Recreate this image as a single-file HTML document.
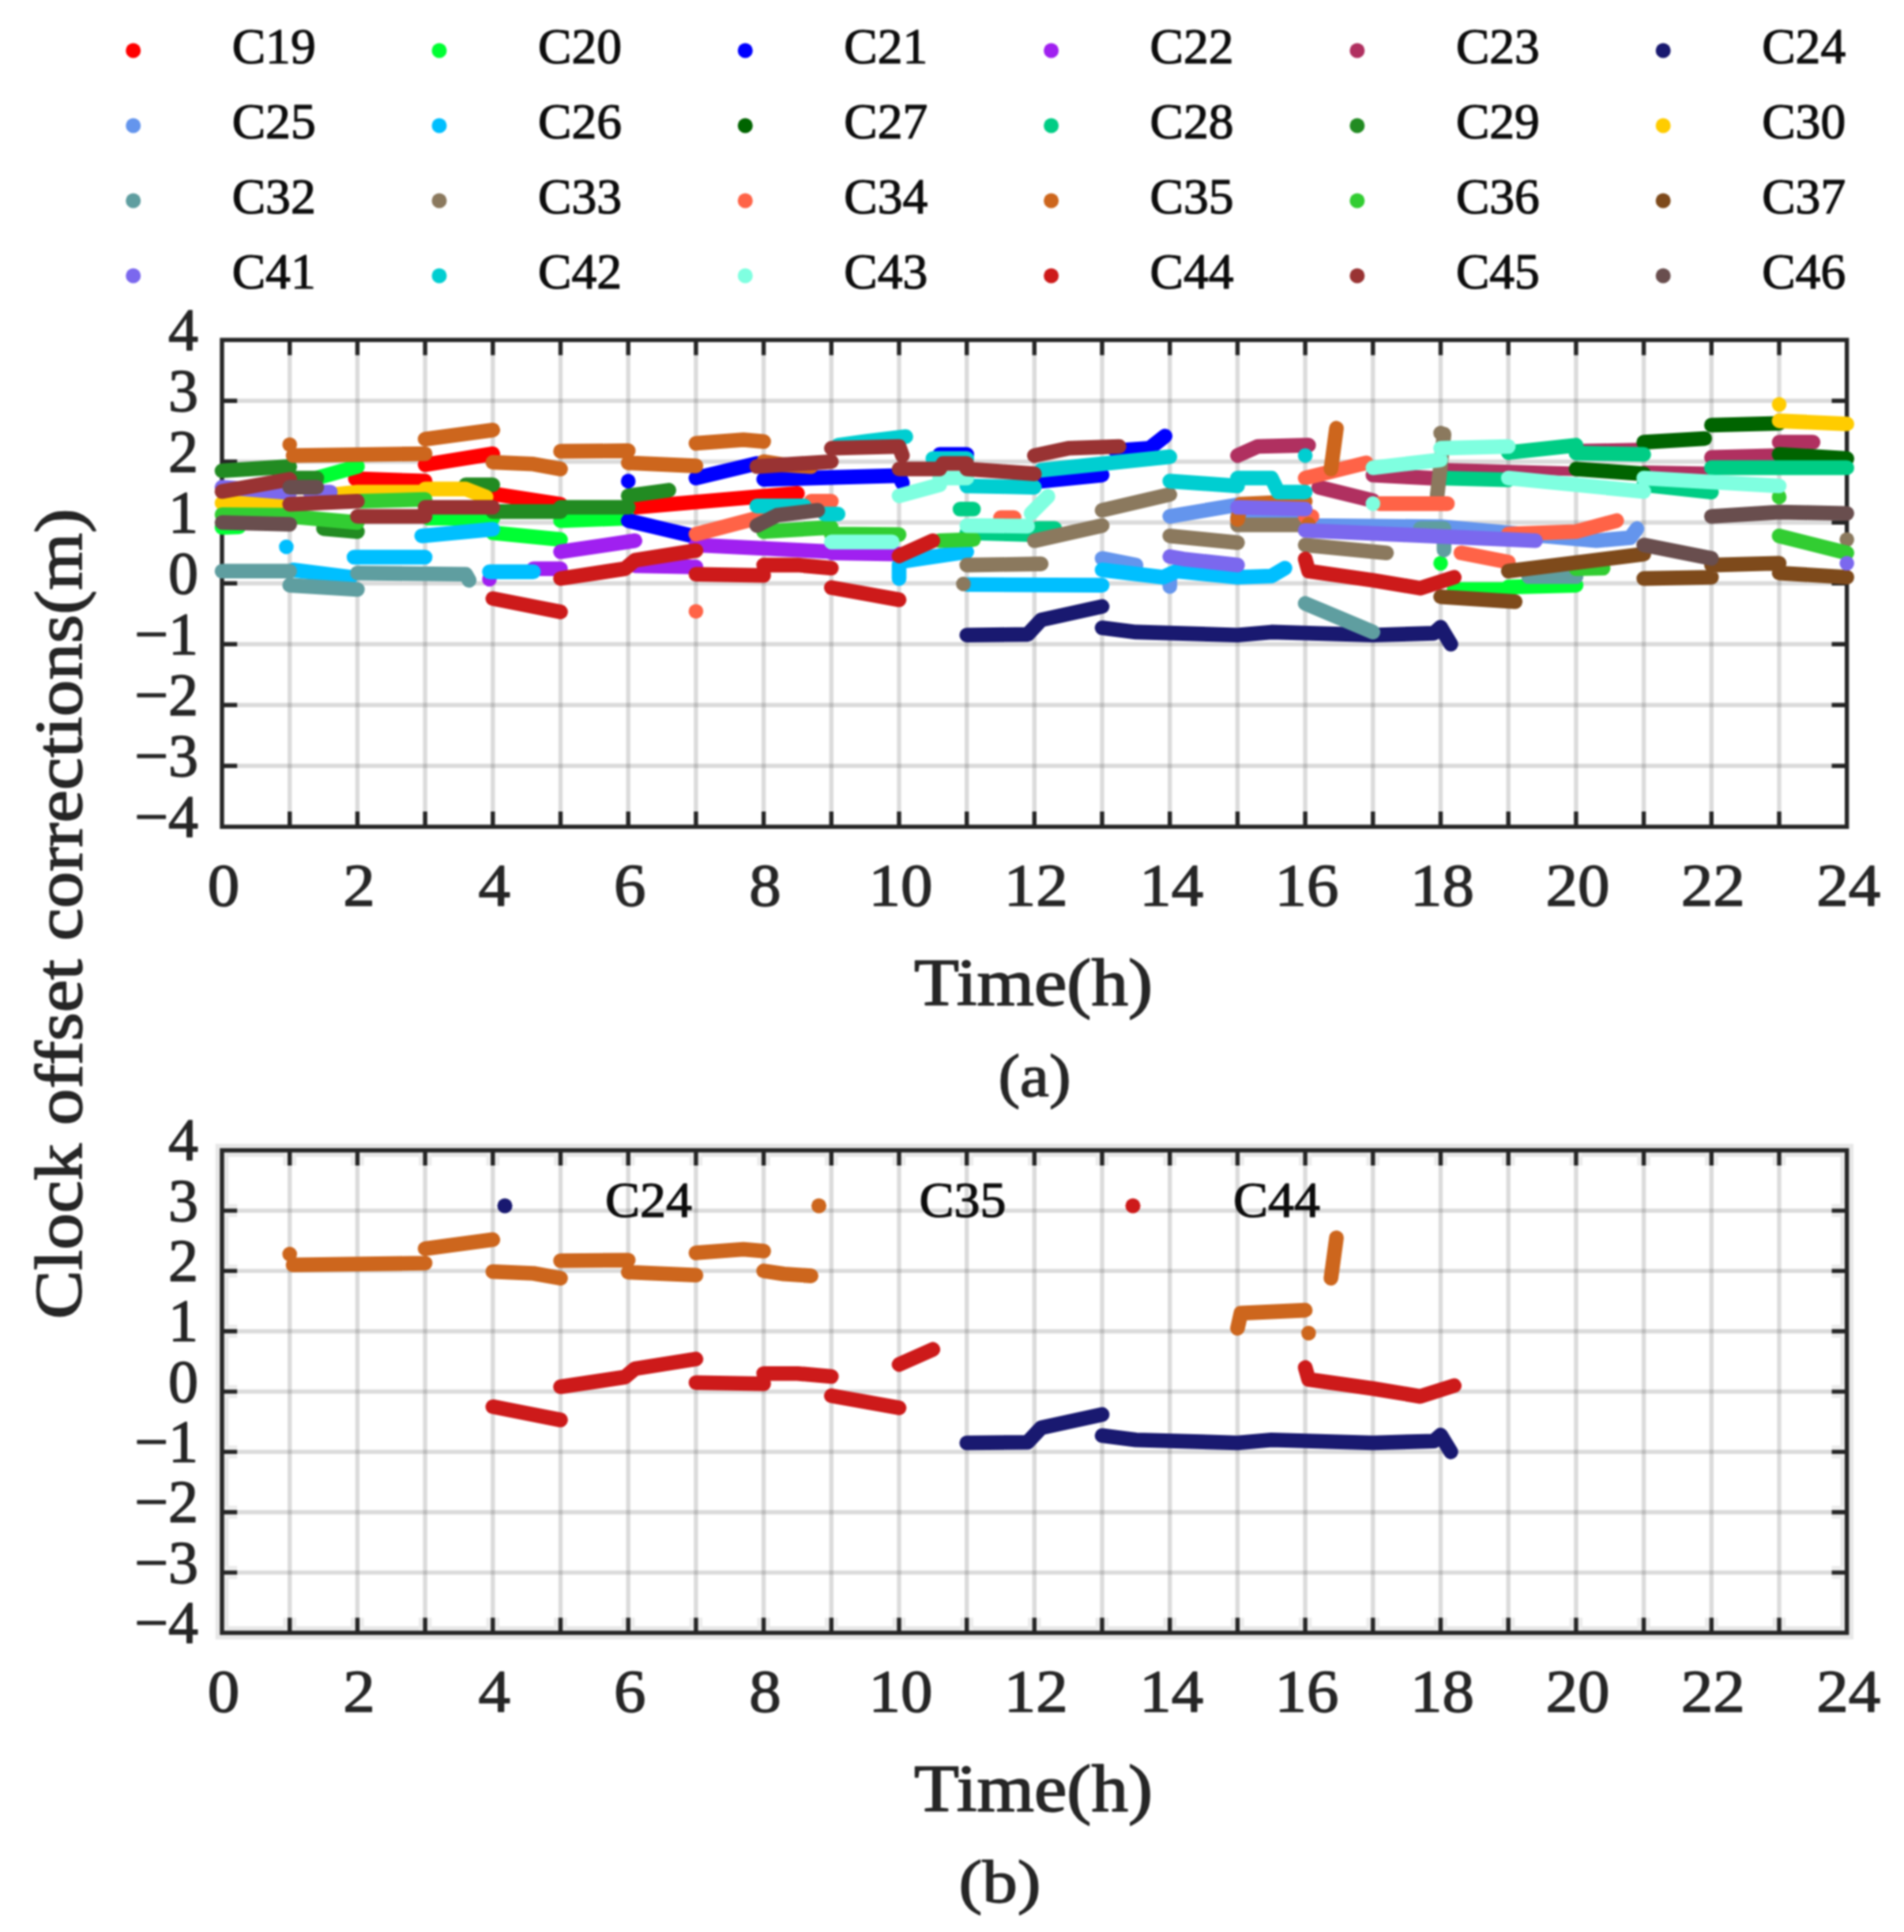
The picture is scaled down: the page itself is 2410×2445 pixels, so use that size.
<!DOCTYPE html>
<html lang="en"><head><meta charset="utf-8"><title>Clock offset corrections</title>
<style>html,body{margin:0;padding:0;background:#fff}svg{display:block;filter:blur(1.3px)}text{font-family:"Liberation Serif", "DejaVu Serif", serif;fill:#262626;stroke:#262626;stroke-width:1.4px;stroke-linejoin:round}.tk{font-size:76px}.lg{font-size:63px;stroke-width:1.2px;fill:#0d0d0d;stroke:#0d0d0d}.ax{font-size:84px;stroke-width:1.6px}.cap{font-size:77px}.d{fill:none;stroke-linecap:round;stroke-linejoin:round;stroke-width:18.6}</style></head><body>
<svg width="2410" height="2445" viewBox="0 0 2410 2445">
<rect width="2410" height="2445" fill="#fff"/>
<circle cx="168.7" cy="64" r="9.5" fill="#ff0000"/>
<text class="lg" x="293.7" y="80" textLength="106" lengthAdjust="spacingAndGlyphs">C19</text>
<circle cx="556" cy="64" r="9.5" fill="#00ff33"/>
<text class="lg" x="681" y="80" textLength="106" lengthAdjust="spacingAndGlyphs">C20</text>
<circle cx="943.3" cy="64" r="9.5" fill="#0000ff"/>
<text class="lg" x="1068.3" y="80" textLength="106" lengthAdjust="spacingAndGlyphs">C21</text>
<circle cx="1330.6" cy="64" r="9.5" fill="#a020f0"/>
<text class="lg" x="1455.6" y="80" textLength="106" lengthAdjust="spacingAndGlyphs">C22</text>
<circle cx="1717.9" cy="64" r="9.5" fill="#b03060"/>
<text class="lg" x="1842.9" y="80" textLength="106" lengthAdjust="spacingAndGlyphs">C23</text>
<circle cx="2105.2" cy="64" r="9.5" fill="#191970"/>
<text class="lg" x="2230.2" y="80" textLength="106" lengthAdjust="spacingAndGlyphs">C24</text>
<circle cx="168.7" cy="159" r="9.5" fill="#6495ed"/>
<text class="lg" x="293.7" y="175" textLength="106" lengthAdjust="spacingAndGlyphs">C25</text>
<circle cx="556" cy="159" r="9.5" fill="#00bfff"/>
<text class="lg" x="681" y="175" textLength="106" lengthAdjust="spacingAndGlyphs">C26</text>
<circle cx="943.3" cy="159" r="9.5" fill="#006400"/>
<text class="lg" x="1068.3" y="175" textLength="106" lengthAdjust="spacingAndGlyphs">C27</text>
<circle cx="1330.6" cy="159" r="9.5" fill="#00cd85"/>
<text class="lg" x="1455.6" y="175" textLength="106" lengthAdjust="spacingAndGlyphs">C28</text>
<circle cx="1717.9" cy="159" r="9.5" fill="#228b22"/>
<text class="lg" x="1842.9" y="175" textLength="106" lengthAdjust="spacingAndGlyphs">C29</text>
<circle cx="2105.2" cy="159" r="9.5" fill="#ffcc00"/>
<text class="lg" x="2230.2" y="175" textLength="106" lengthAdjust="spacingAndGlyphs">C30</text>
<circle cx="168.7" cy="254" r="9.5" fill="#5f9ea0"/>
<text class="lg" x="293.7" y="270" textLength="106" lengthAdjust="spacingAndGlyphs">C32</text>
<circle cx="556" cy="254" r="9.5" fill="#8b795e"/>
<text class="lg" x="681" y="270" textLength="106" lengthAdjust="spacingAndGlyphs">C33</text>
<circle cx="943.3" cy="254" r="9.5" fill="#ff6347"/>
<text class="lg" x="1068.3" y="270" textLength="106" lengthAdjust="spacingAndGlyphs">C34</text>
<circle cx="1330.6" cy="254" r="9.5" fill="#cd661d"/>
<text class="lg" x="1455.6" y="270" textLength="106" lengthAdjust="spacingAndGlyphs">C35</text>
<circle cx="1717.9" cy="254" r="9.5" fill="#32cd32"/>
<text class="lg" x="1842.9" y="270" textLength="106" lengthAdjust="spacingAndGlyphs">C36</text>
<circle cx="2105.2" cy="254" r="9.5" fill="#7e4a1b"/>
<text class="lg" x="2230.2" y="270" textLength="106" lengthAdjust="spacingAndGlyphs">C37</text>
<circle cx="168.7" cy="349" r="9.5" fill="#7b68ee"/>
<text class="lg" x="293.7" y="365" textLength="106" lengthAdjust="spacingAndGlyphs">C41</text>
<circle cx="556" cy="349" r="9.5" fill="#00ced1"/>
<text class="lg" x="681" y="365" textLength="106" lengthAdjust="spacingAndGlyphs">C42</text>
<circle cx="943.3" cy="349" r="9.5" fill="#7fffe0"/>
<text class="lg" x="1068.3" y="365" textLength="106" lengthAdjust="spacingAndGlyphs">C43</text>
<circle cx="1330.6" cy="349" r="9.5" fill="#cd1a1a"/>
<text class="lg" x="1455.6" y="365" textLength="106" lengthAdjust="spacingAndGlyphs">C44</text>
<circle cx="1717.9" cy="349" r="9.5" fill="#993333"/>
<text class="lg" x="1842.9" y="365" textLength="106" lengthAdjust="spacingAndGlyphs">C45</text>
<circle cx="2105.2" cy="349" r="9.5" fill="#694e4e"/>
<text class="lg" x="2230.2" y="365" textLength="106" lengthAdjust="spacingAndGlyphs">C46</text>
<path d="M366.7 430.2 V1046.3 M452.4 430.2 V1046.3 M538.1 430.2 V1046.3 M623.8 430.2 V1046.3 M709.5 430.2 V1046.3 M795.2 430.2 V1046.3 M880.9 430.2 V1046.3 M966.6 430.2 V1046.3 M1052.3 430.2 V1046.3 M1138 430.2 V1046.3 M1223.7 430.2 V1046.3 M1309.3 430.2 V1046.3 M1395 430.2 V1046.3 M1480.7 430.2 V1046.3 M1566.4 430.2 V1046.3 M1652.1 430.2 V1046.3 M1737.8 430.2 V1046.3 M1823.5 430.2 V1046.3 M1909.2 430.2 V1046.3 M1994.9 430.2 V1046.3 M2080.6 430.2 V1046.3 M2166.3 430.2 V1046.3 M2252 430.2 V1046.3" stroke="#262626" stroke-opacity="0.165" stroke-width="5.4" fill="none"/>
<path d="M281 969.3 H2337.7 M281 892.3 H2337.7 M281 815.3 H2337.7 M281 738.2 H2337.7 M281 661.2 H2337.7 M281 584.2 H2337.7 M281 507.2 H2337.7" stroke="#262626" stroke-opacity="0.165" stroke-width="5.4" fill="none"/>
<path d="M366.7 430.2 v19.2 M366.7 1046.3 v-19.2 M452.4 430.2 v19.2 M452.4 1046.3 v-19.2 M538.1 430.2 v19.2 M538.1 1046.3 v-19.2 M623.8 430.2 v19.2 M623.8 1046.3 v-19.2 M709.5 430.2 v19.2 M709.5 1046.3 v-19.2 M795.2 430.2 v19.2 M795.2 1046.3 v-19.2 M880.9 430.2 v19.2 M880.9 1046.3 v-19.2 M966.6 430.2 v19.2 M966.6 1046.3 v-19.2 M1052.3 430.2 v19.2 M1052.3 1046.3 v-19.2 M1138 430.2 v19.2 M1138 1046.3 v-19.2 M1223.7 430.2 v19.2 M1223.7 1046.3 v-19.2 M1309.3 430.2 v19.2 M1309.3 1046.3 v-19.2 M1395 430.2 v19.2 M1395 1046.3 v-19.2 M1480.7 430.2 v19.2 M1480.7 1046.3 v-19.2 M1566.4 430.2 v19.2 M1566.4 1046.3 v-19.2 M1652.1 430.2 v19.2 M1652.1 1046.3 v-19.2 M1737.8 430.2 v19.2 M1737.8 1046.3 v-19.2 M1823.5 430.2 v19.2 M1823.5 1046.3 v-19.2 M1909.2 430.2 v19.2 M1909.2 1046.3 v-19.2 M1994.9 430.2 v19.2 M1994.9 1046.3 v-19.2 M2080.6 430.2 v19.2 M2080.6 1046.3 v-19.2 M2166.3 430.2 v19.2 M2166.3 1046.3 v-19.2 M2252 430.2 v19.2 M2252 1046.3 v-19.2 M281 969.3 h19.2 M2337.7 969.3 h-19.2 M281 892.3 h19.2 M2337.7 892.3 h-19.2 M281 815.3 h19.2 M2337.7 815.3 h-19.2 M281 738.2 h19.2 M2337.7 738.2 h-19.2 M281 661.2 h19.2 M2337.7 661.2 h-19.2 M281 584.2 h19.2 M2337.7 584.2 h-19.2 M281 507.2 h19.2 M2337.7 507.2 h-19.2" stroke="#262626" stroke-width="5.4" fill="none"/>
<rect x="281" y="430.2" width="2056.7" height="616.1" fill="none" stroke="#262626" stroke-width="5.4"/>
<g id="plot-a">
<g stroke="#ff0000" fill="#ff0000"><path class="d" d="M449.8 605.8 L538.1 608.9 M538.1 588.1 L623.8 574.2 M623.8 625 L709.5 638.1 M803.7 642 L1009.4 624.3"/></g>
<g stroke="#00ff33" fill="#00ff33"><path class="d" d="M281 667.4 L302.4 666.6 M401 605 L452.4 590.4 M542.4 655.8 L623.8 655.8 M623.8 674.3 L709.5 682.8 M709.5 658.9 L795.2 655.8 M1840.7 746 L1909.2 746 M1909.2 742.9 L1994.9 740.6"/><circle cx="1823.5" cy="712.8" r="9.3" stroke="none"/></g>
<g stroke="#0000ff" fill="#0000ff"><path class="d" d="M795.2 658.9 L876.6 678.2 M880.9 605 L958 586.5 M966.6 606.6 L1138 601.9 L1142.2 611.2 M1189.4 575 L1223.7 575 M1317.9 608.9 L1395 601.2 M1412.2 570.4 L1455 567.3 L1474.7 551.9"/><circle cx="795.2" cy="608.9" r="9.3" stroke="none"/></g>
<g stroke="#a020f0" fill="#a020f0"><path class="d" d="M675.2 719.8 L709.5 719.8 M709.5 698.2 L803.7 684.3 M803.7 715.9 L880.9 717.5 M880.9 689.7 L1052.3 698.2 M1052.3 699.7 L1138 701.3"/><circle cx="619.5" cy="732.9" r="9.3" stroke="none"/></g>
<g stroke="#b03060" fill="#b03060"><path class="d" d="M1566.4 576.5 L1592.1 565 L1656.4 563.4 M1669.3 616.6 L1737.8 633.5 M1737.8 601.2 L1823.5 605.8 M2166.3 578.8 L2252 576.5 M2252 559.6 L2294.9 559.6"/><path class="d" style="stroke-width:12" d="M1832.1 591.9 L1994.9 596.5"/><path class="d" style="stroke-width:11" d="M1994.9 567.3 L2080.6 565.7"/><path class="d" style="stroke-width:12" d="M2080.6 595 L2166.3 596.5"/></g>
<g stroke="#191970" fill="#191970"><path class="d" d="M1223.7 803.7 L1300.8 802.9 L1317.9 784.5 L1395 767.5 M1395 794.5 L1437.9 799.9 L1566.4 803.7 L1609.3 799.9 L1737.8 803.7 L1815 801.4 L1823.5 793.7 L1836.4 815.3"/></g>
<g stroke="#6495ed" fill="#6495ed"><path class="d" d="M1395 706.7 L1437.9 715.1 M1480.7 742.1 L1480.7 730.5 M1480.7 653.5 L1566.4 638.9 M1566.4 654.3 L1652.1 654.3 M1652.1 665.1 L1823.5 666.6 L2020.6 684.3 L2063.5 680.5 L2072 668.9"/></g>
<g stroke="#00bfff" fill="#00bfff"><path class="d" d="M371 721.3 L443.8 730.5 M448.1 705.1 L538.1 705.1 M533.8 678.2 L623.8 669.7 M619.5 723.6 L675.2 723.6 M1138 732.1 L1138 715.1 M1146.5 709.8 L1223.7 698.2 M1223.7 739.8 L1395 740.6 M1395 721.3 L1472.2 730.5 L1489.3 722.8 L1566.4 730.5 L1609.3 729 L1626.4 719"/><circle cx="362.4" cy="692" r="9.3" stroke="none"/></g>
<g stroke="#006400" fill="#006400"><path class="d" d="M1994.9 593.5 L2080.6 599.6 M2080.6 559.6 L2157.7 555 M2166.3 538 L2252 535.7 M2252 575 L2337.7 580.4"/></g>
<g stroke="#00cd85" fill="#00cd85"><path class="d" d="M1215.1 644.3 L1232.2 644.3 M1223.7 674.3 L1309.3 676.6 M1313.6 668.9 L1335.1 668.9 M1823.5 605 L1909.2 607.3 M1909.2 572.7 L1994.9 563.4 M1994.9 573.4 L2080.6 575 M2080.6 613.5 L2166.3 622.7 M2166.3 591.9 L2337.7 591.9"/></g>
<g stroke="#228b22" fill="#228b22"><path class="d" d="M281 595.8 L366.7 590.4 M371 605 L401 605 M409.5 668.9 L452.4 672.8 M589.5 613.5 L623.8 613.5 M623.8 647.4 L709.5 647.4 M709.5 642 L795.2 642 M795.2 627.4 L846.6 620.4"/></g>
<g stroke="#ffcc00" fill="#ffcc00"><path class="d" d="M281 636.6 L366.7 637.4 M418.1 626.6 L452.4 622.7 L538.1 622.7 M538.1 618.9 L589.5 618.9 L615.2 628.9 M2252 532.6 L2337.7 536.5"/><circle cx="2252" cy="511.8" r="9.3" stroke="none"/></g>
<g stroke="#5f9ea0" fill="#5f9ea0"><path class="d" d="M281 722.8 L366.7 722.8 M366.7 740.6 L452.4 746 M452.4 725.2 L589.5 726.7 L593.8 734.4 M1652.1 763.7 L1737.8 799.9 M1797.8 668.9 L1827.8 668.9 L1827.8 695.9 M1934.9 729.8 L1994.9 729.8"/></g>
<g stroke="#8b795e" fill="#8b795e"><path class="d" d="M1223.7 715.1 L1317.9 713.6 M1309.3 684.3 L1395 665.1 M1395 645.8 L1480.7 625.8 M1480.7 678.2 L1566.4 686.7 M1566.4 664.3 L1652.1 664.3 M1652.1 689.7 L1755 699.7 M1827.8 549.6 L1819.2 626.6"/><circle cx="1219.4" cy="739" r="9.3" stroke="none"/><circle cx="1823.5" cy="548" r="9.3" stroke="none"/><circle cx="2337.7" cy="682.8" r="9.3" stroke="none"/></g>
<g stroke="#ff6347" fill="#ff6347"><path class="d" d="M880.9 675.9 L966.6 653.5 M1026.6 634.3 L1052.3 634.3 M1266.5 655.1 L1283.6 655.1 M1652.1 653.5 L1660.7 653.5 M1652.1 605 L1729.3 585.8 M1746.4 637.4 L1832.1 637.4 M1849.2 699.7 L1909.2 711.3 M1909.2 675.9 L1994.9 672.8 L2046.3 658.9"/><circle cx="880.9" cy="773.7" r="9.3" stroke="none"/></g>
<g stroke="#cd661d" fill="#cd661d"><path class="d" d="M371 576.5 L538.1 574.2 M538.1 555.7 L623.8 544.2 M623.8 585 L675.2 587.3 L709.5 593.5 M709.5 571.1 L795.2 570.4 M795.2 585.8 L880.9 589.6 M880.9 561.1 L940.9 556.5 L966.6 558.8 M966.6 584.2 L992.3 588.1 L1026.6 590.4 M1566.4 657.4 L1570.7 638.1 L1652.1 634.3 M1684.7 593.5 L1691.6 541.9"/><circle cx="366.7" cy="562.7" r="9.3" stroke="none"/><circle cx="1656.4" cy="663.5" r="9.3" stroke="none"/></g>
<g stroke="#32cd32" fill="#32cd32"><path class="d" d="M281 651.2 L366.7 652 M366.7 653.5 L452.4 661.2 M456.7 634.3 L538.1 632 M966.6 672.8 L1052.3 667.4 M1052.3 675.9 L1138 676.6 M1189.4 684.3 L1232.2 682.8 M1994.9 719.8 L2029.2 719 M2252 678.2 L2337.7 699.7"/><circle cx="2252" cy="628.9" r="9.3" stroke="none"/></g>
<g stroke="#7e4a1b" fill="#7e4a1b"><path class="d" d="M1823.5 755.2 L1917.8 761.4 M1909.2 722.8 L2080.6 701.3 M2080.6 732.1 L2166.3 730.5 M2166.3 715.1 L2252 712.8 M2252 725.2 L2337.7 730.5"/></g>
<g stroke="#7b68ee" fill="#7b68ee"><path class="d" d="M281 616.6 L366.7 623.5 M392.4 622.7 L418.1 622.7 M1480.7 704.4 L1497.9 707.4 L1566.4 715.1 M1566.4 642 L1652.1 644.3 M1652.1 671.2 L1943.5 684.3"/><circle cx="2337.7" cy="712.8" r="9.3" stroke="none"/></g>
<g stroke="#00ced1" fill="#00ced1"><path class="d" d="M958 640.4 L1018 640.4 M1043.7 650.5 L1060.8 650.5 M1060.8 563.4 L1095.1 558.8 L1146.5 552.6 M1180.8 580.4 L1223.7 580.4 M1223.7 615 L1309.3 616.6 M1317.9 595 L1480.7 578.1 M1480.7 608.9 L1566.4 615 M1566.4 605 L1609.3 605 L1617.9 622.7 L1652.1 622.7"/><circle cx="1652.1" cy="576.5" r="9.3" stroke="none"/></g>
<g stroke="#7fffe0" fill="#7fffe0"><path class="d" d="M1052.3 685.9 L1129.4 685.9 M1138 627.4 L1189.4 613.5 M1189.4 605 L1223.7 605 M1223.7 665.1 L1300.8 665.9 M1305.1 649.7 L1326.5 628.1 M1737.8 591.9 L1823.5 581.9 M1823.5 567.3 L1909.2 565 M1909.2 605 L2080.6 622 M2080.6 605 L2252 615"/><circle cx="1737.8" cy="637.4" r="9.3" stroke="none"/></g>
<g stroke="#cd1a1a" fill="#cd1a1a"><path class="d" d="M623.8 757.5 L709.5 774.4 M709.5 732.1 L790.9 719.8 L803.7 709 L880.9 696.7 M880.9 726.7 L966.6 728.2 M966.6 715.1 L1009.4 715.1 L1052.3 719 M1052.3 743.6 L1138 759 M1138 703.6 L1180.8 684.3 M1652.1 707.4 L1656.4 722.8 L1737.8 734.4 L1797.8 744.4 L1840.7 730.5"/></g>
<g stroke="#993333" fill="#993333"><path class="d" d="M281 622 L366.7 606.6 M366.7 638.1 L452.4 634.3 M452.4 653.5 L538.1 653.5 M538.1 642 L623.8 642 M958 590.4 L1052.3 584.2 M1052.3 567.3 L1138 565 L1142.2 576.5 M1138 593.5 L1189.4 593.5 L1193.7 586.5 L1223.7 586.5 M1223.7 593.5 L1309.3 599.6 M1309.3 576.5 L1352.2 567.3 L1416.5 565"/></g>
<g stroke="#694e4e" fill="#694e4e"><path class="d" d="M281 661.2 L366.7 663.5 M366.7 616.6 L401 616.6 M958 665.1 L983.7 652 L1035.1 645.8 M2080.6 689.7 L2166.3 706.7 M2166.3 653.5 L2252 648.1 L2337.7 649.7"/></g>
</g>
<text class="tk" x="251" y="1058.8" text-anchor="end">−4</text>
<text class="tk" x="251" y="981.8" text-anchor="end">−3</text>
<text class="tk" x="251" y="904.8" text-anchor="end">−2</text>
<text class="tk" x="251" y="827.8" text-anchor="end">−1</text>
<text class="tk" x="251" y="750.8" text-anchor="end">0</text>
<text class="tk" x="251" y="673.7" text-anchor="end">1</text>
<text class="tk" x="251" y="596.7" text-anchor="end">2</text>
<text class="tk" x="251" y="519.7" text-anchor="end">3</text>
<text class="tk" x="251" y="442.7" text-anchor="end">4</text>
<text class="tk" x="283" y="1146.1" text-anchor="middle" textLength="40.5" lengthAdjust="spacingAndGlyphs">0</text>
<text class="tk" x="454.4" y="1146.1" text-anchor="middle" textLength="40.5" lengthAdjust="spacingAndGlyphs">2</text>
<text class="tk" x="625.8" y="1146.1" text-anchor="middle" textLength="40.5" lengthAdjust="spacingAndGlyphs">4</text>
<text class="tk" x="797.2" y="1146.1" text-anchor="middle" textLength="40.5" lengthAdjust="spacingAndGlyphs">6</text>
<text class="tk" x="968.6" y="1146.1" text-anchor="middle" textLength="40.5" lengthAdjust="spacingAndGlyphs">8</text>
<text class="tk" x="1140" y="1146.1" text-anchor="middle" textLength="81" lengthAdjust="spacingAndGlyphs">10</text>
<text class="tk" x="1311.3" y="1146.1" text-anchor="middle" textLength="81" lengthAdjust="spacingAndGlyphs">12</text>
<text class="tk" x="1482.7" y="1146.1" text-anchor="middle" textLength="81" lengthAdjust="spacingAndGlyphs">14</text>
<text class="tk" x="1654.1" y="1146.1" text-anchor="middle" textLength="81" lengthAdjust="spacingAndGlyphs">16</text>
<text class="tk" x="1825.5" y="1146.1" text-anchor="middle" textLength="81" lengthAdjust="spacingAndGlyphs">18</text>
<text class="tk" x="1996.9" y="1146.1" text-anchor="middle" textLength="81" lengthAdjust="spacingAndGlyphs">20</text>
<text class="tk" x="2168.3" y="1146.1" text-anchor="middle" textLength="81" lengthAdjust="spacingAndGlyphs">22</text>
<text class="tk" x="2339.7" y="1146.1" text-anchor="middle" textLength="81" lengthAdjust="spacingAndGlyphs">24</text>
<text class="ax" x="1308" y="1272.3" text-anchor="middle" textLength="302" lengthAdjust="spacingAndGlyphs">Time(h)</text>
<text class="cap" x="1309.5" y="1386.8" text-anchor="middle" textLength="92" lengthAdjust="spacingAndGlyphs">(a)</text>
<path d="M366.7 1455.8 V2066.4 M452.4 1455.8 V2066.4 M538.1 1455.8 V2066.4 M623.8 1455.8 V2066.4 M709.5 1455.8 V2066.4 M795.2 1455.8 V2066.4 M880.9 1455.8 V2066.4 M966.6 1455.8 V2066.4 M1052.3 1455.8 V2066.4 M1138 1455.8 V2066.4 M1223.7 1455.8 V2066.4 M1309.3 1455.8 V2066.4 M1395 1455.8 V2066.4 M1480.7 1455.8 V2066.4 M1566.4 1455.8 V2066.4 M1652.1 1455.8 V2066.4 M1737.8 1455.8 V2066.4 M1823.5 1455.8 V2066.4 M1909.2 1455.8 V2066.4 M1994.9 1455.8 V2066.4 M2080.6 1455.8 V2066.4 M2166.3 1455.8 V2066.4 M2252 1455.8 V2066.4" stroke="#262626" stroke-opacity="0.165" stroke-width="5.4" fill="none"/>
<path d="M281 1990.1 H2337.7 M281 1913.8 H2337.7 M281 1837.4 H2337.7 M281 1761.1 H2337.7 M281 1684.8 H2337.7 M281 1608.4 H2337.7 M281 1532.1 H2337.7" stroke="#262626" stroke-opacity="0.165" stroke-width="5.4" fill="none"/>
<rect x="281" y="1455.8" width="2056.7" height="610.6" fill="none" stroke="#e7e7e7" stroke-width="16.5"/>
<path d="M366.7 1455.8 v19.2 M366.7 2066.4 v-19.2 M452.4 1455.8 v19.2 M452.4 2066.4 v-19.2 M538.1 1455.8 v19.2 M538.1 2066.4 v-19.2 M623.8 1455.8 v19.2 M623.8 2066.4 v-19.2 M709.5 1455.8 v19.2 M709.5 2066.4 v-19.2 M795.2 1455.8 v19.2 M795.2 2066.4 v-19.2 M880.9 1455.8 v19.2 M880.9 2066.4 v-19.2 M966.6 1455.8 v19.2 M966.6 2066.4 v-19.2 M1052.3 1455.8 v19.2 M1052.3 2066.4 v-19.2 M1138 1455.8 v19.2 M1138 2066.4 v-19.2 M1223.7 1455.8 v19.2 M1223.7 2066.4 v-19.2 M1309.3 1455.8 v19.2 M1309.3 2066.4 v-19.2 M1395 1455.8 v19.2 M1395 2066.4 v-19.2 M1480.7 1455.8 v19.2 M1480.7 2066.4 v-19.2 M1566.4 1455.8 v19.2 M1566.4 2066.4 v-19.2 M1652.1 1455.8 v19.2 M1652.1 2066.4 v-19.2 M1737.8 1455.8 v19.2 M1737.8 2066.4 v-19.2 M1823.5 1455.8 v19.2 M1823.5 2066.4 v-19.2 M1909.2 1455.8 v19.2 M1909.2 2066.4 v-19.2 M1994.9 1455.8 v19.2 M1994.9 2066.4 v-19.2 M2080.6 1455.8 v19.2 M2080.6 2066.4 v-19.2 M2166.3 1455.8 v19.2 M2166.3 2066.4 v-19.2 M2252 1455.8 v19.2 M2252 2066.4 v-19.2 M281 1990.1 h19.2 M2337.7 1990.1 h-19.2 M281 1913.8 h19.2 M2337.7 1913.8 h-19.2 M281 1837.4 h19.2 M2337.7 1837.4 h-19.2 M281 1761.1 h19.2 M2337.7 1761.1 h-19.2 M281 1684.8 h19.2 M2337.7 1684.8 h-19.2 M281 1608.4 h19.2 M2337.7 1608.4 h-19.2 M281 1532.1 h19.2 M2337.7 1532.1 h-19.2" stroke="#ececec" stroke-width="16.5" fill="none"/>
<path d="M366.7 1455.8 v19.2 M366.7 2066.4 v-19.2 M452.4 1455.8 v19.2 M452.4 2066.4 v-19.2 M538.1 1455.8 v19.2 M538.1 2066.4 v-19.2 M623.8 1455.8 v19.2 M623.8 2066.4 v-19.2 M709.5 1455.8 v19.2 M709.5 2066.4 v-19.2 M795.2 1455.8 v19.2 M795.2 2066.4 v-19.2 M880.9 1455.8 v19.2 M880.9 2066.4 v-19.2 M966.6 1455.8 v19.2 M966.6 2066.4 v-19.2 M1052.3 1455.8 v19.2 M1052.3 2066.4 v-19.2 M1138 1455.8 v19.2 M1138 2066.4 v-19.2 M1223.7 1455.8 v19.2 M1223.7 2066.4 v-19.2 M1309.3 1455.8 v19.2 M1309.3 2066.4 v-19.2 M1395 1455.8 v19.2 M1395 2066.4 v-19.2 M1480.7 1455.8 v19.2 M1480.7 2066.4 v-19.2 M1566.4 1455.8 v19.2 M1566.4 2066.4 v-19.2 M1652.1 1455.8 v19.2 M1652.1 2066.4 v-19.2 M1737.8 1455.8 v19.2 M1737.8 2066.4 v-19.2 M1823.5 1455.8 v19.2 M1823.5 2066.4 v-19.2 M1909.2 1455.8 v19.2 M1909.2 2066.4 v-19.2 M1994.9 1455.8 v19.2 M1994.9 2066.4 v-19.2 M2080.6 1455.8 v19.2 M2080.6 2066.4 v-19.2 M2166.3 1455.8 v19.2 M2166.3 2066.4 v-19.2 M2252 1455.8 v19.2 M2252 2066.4 v-19.2 M281 1990.1 h19.2 M2337.7 1990.1 h-19.2 M281 1913.8 h19.2 M2337.7 1913.8 h-19.2 M281 1837.4 h19.2 M2337.7 1837.4 h-19.2 M281 1761.1 h19.2 M2337.7 1761.1 h-19.2 M281 1684.8 h19.2 M2337.7 1684.8 h-19.2 M281 1608.4 h19.2 M2337.7 1608.4 h-19.2 M281 1532.1 h19.2 M2337.7 1532.1 h-19.2" stroke="#262626" stroke-width="5.4" fill="none"/>
<rect x="281" y="1455.8" width="2056.7" height="610.6" fill="none" stroke="#262626" stroke-width="5.4"/>
<g id="plot-b">
<g stroke="#191970" fill="#191970"><path class="d" d="M1223.7 1826 L1300.8 1825.2 L1317.9 1806.9 L1395 1790.1 M1395 1816.8 L1437.9 1822.2 L1566.4 1826 L1609.3 1822.2 L1737.8 1826 L1815 1823.7 L1823.5 1816.1 L1836.4 1837.4"/></g>
<g stroke="#cd661d" fill="#cd661d"><path class="d" d="M371 1600.8 L538.1 1598.5 M538.1 1580.2 L623.8 1568.8 M623.8 1609.2 L675.2 1611.5 L709.5 1617.6 M709.5 1595.5 L795.2 1594.7 M795.2 1610 L880.9 1613.8 M880.9 1585.6 L940.9 1581 L966.6 1583.3 M966.6 1608.4 L992.3 1612.3 L1026.6 1614.6 M1566.4 1681 L1570.7 1661.9 L1652.1 1658.1 M1684.7 1617.6 L1691.6 1566.5"/><circle cx="366.7" cy="1587.1" r="9.3" stroke="none"/><circle cx="1656.4" cy="1687.1" r="9.3" stroke="none"/></g>
<g stroke="#cd1a1a" fill="#cd1a1a"><path class="d" d="M623.8 1780.2 L709.5 1797 M709.5 1755 L790.9 1742.8 L803.7 1732.1 L880.9 1719.9 M880.9 1749.7 L966.6 1751.2 M966.6 1738.2 L1009.4 1738.2 L1052.3 1742 M1052.3 1766.4 L1138 1781.7 M1138 1726.8 L1180.8 1707.7 M1652.1 1730.6 L1656.4 1745.8 L1737.8 1757.3 L1797.8 1767.2 L1840.7 1753.5"/></g>
</g>
<text class="tk" x="251" y="2078.9" text-anchor="end">−4</text>
<text class="tk" x="251" y="2002.6" text-anchor="end">−3</text>
<text class="tk" x="251" y="1926.2" text-anchor="end">−2</text>
<text class="tk" x="251" y="1849.9" text-anchor="end">−1</text>
<text class="tk" x="251" y="1773.6" text-anchor="end">0</text>
<text class="tk" x="251" y="1697.3" text-anchor="end">1</text>
<text class="tk" x="251" y="1620.9" text-anchor="end">2</text>
<text class="tk" x="251" y="1544.6" text-anchor="end">3</text>
<text class="tk" x="251" y="1468.3" text-anchor="end">4</text>
<text class="tk" x="283" y="2166.2" text-anchor="middle" textLength="40.5" lengthAdjust="spacingAndGlyphs">0</text>
<text class="tk" x="454.4" y="2166.2" text-anchor="middle" textLength="40.5" lengthAdjust="spacingAndGlyphs">2</text>
<text class="tk" x="625.8" y="2166.2" text-anchor="middle" textLength="40.5" lengthAdjust="spacingAndGlyphs">4</text>
<text class="tk" x="797.2" y="2166.2" text-anchor="middle" textLength="40.5" lengthAdjust="spacingAndGlyphs">6</text>
<text class="tk" x="968.6" y="2166.2" text-anchor="middle" textLength="40.5" lengthAdjust="spacingAndGlyphs">8</text>
<text class="tk" x="1140" y="2166.2" text-anchor="middle" textLength="81" lengthAdjust="spacingAndGlyphs">10</text>
<text class="tk" x="1311.3" y="2166.2" text-anchor="middle" textLength="81" lengthAdjust="spacingAndGlyphs">12</text>
<text class="tk" x="1482.7" y="2166.2" text-anchor="middle" textLength="81" lengthAdjust="spacingAndGlyphs">14</text>
<text class="tk" x="1654.1" y="2166.2" text-anchor="middle" textLength="81" lengthAdjust="spacingAndGlyphs">16</text>
<text class="tk" x="1825.5" y="2166.2" text-anchor="middle" textLength="81" lengthAdjust="spacingAndGlyphs">18</text>
<text class="tk" x="1996.9" y="2166.2" text-anchor="middle" textLength="81" lengthAdjust="spacingAndGlyphs">20</text>
<text class="tk" x="2168.3" y="2166.2" text-anchor="middle" textLength="81" lengthAdjust="spacingAndGlyphs">22</text>
<text class="tk" x="2339.7" y="2166.2" text-anchor="middle" textLength="81" lengthAdjust="spacingAndGlyphs">24</text>
<text class="ax" x="1308" y="2292.4" text-anchor="middle" textLength="302" lengthAdjust="spacingAndGlyphs">Time(h)</text>
<text class="cap" x="1265.5" y="2406.9" text-anchor="middle" textLength="104" lengthAdjust="spacingAndGlyphs">(b)</text>
<circle cx="639" cy="1526" r="9.5" fill="#191970"/>
<text class="lg" x="766" y="1540" textLength="110" lengthAdjust="spacingAndGlyphs">C24</text>
<circle cx="1036.5" cy="1526" r="9.5" fill="#cd661d"/>
<text class="lg" x="1163.5" y="1540" textLength="110" lengthAdjust="spacingAndGlyphs">C35</text>
<circle cx="1434" cy="1526" r="9.5" fill="#cd1a1a"/>
<text class="lg" x="1561" y="1540" textLength="110" lengthAdjust="spacingAndGlyphs">C44</text>
<text class="ax" transform="translate(103 1156.5) rotate(-90)" text-anchor="middle" textLength="1026" lengthAdjust="spacingAndGlyphs">Clock offset corrections(m)</text>
</svg></body></html>
